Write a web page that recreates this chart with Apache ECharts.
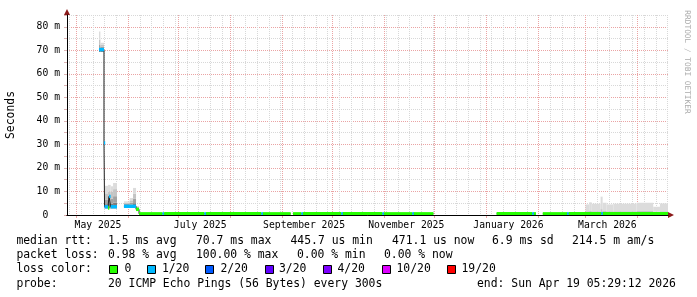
<!DOCTYPE html>
<html><head><meta charset="utf-8">
<script src="https://cdn.jsdelivr.net/npm/echarts@6/dist/echarts.min.js"></script>
<style>html,body{margin:0;padding:0;background:#fff}#c{width:697px;height:297px}</style>
</head><body><div id="c"></div>
<script>
// ---------- axis definitions ----------
const axisStart = '2025-04-25 12:00';
const axisEnd = '2026-04-19 05:29';
const yMax = 85;
const yTickValues = [0, 10, 20, 30, 40, 50, 60, 70, 80];
const yTickLabels = ['0\u00a0\u00a0', '10 m', '20 m', '30 m', '40 m', '50 m', '60 m', '70 m', '80 m'];
const xLabelDates = ['2025-05-14', '2025-07-14', '2025-09-14', '2025-11-14', '2026-01-14', '2026-03-14'];
const xLabelTexts = ['May 2025', 'July 2025', 'September 2025', 'November 2025', 'January 2026', 'March 2026'];
const monthStarts = ['2025-05-01', '2025-06-01', '2025-07-01', '2025-08-01', '2025-09-01', '2025-10-01',
  '2025-11-01', '2025-12-01', '2026-01-01', '2026-02-01', '2026-03-01', '2026-04-01'];
const firstWeekStart = '2025-04-27';

// ---------- median rtt (ms) per interval, with lost pings (of 20) ----------
const medStart = ['2025-05-14 14:00', '2025-05-17 14:00', '2025-05-17 22:00', '2025-05-20 00:00', '2025-05-20 14:00',
  '2025-05-21 14:00', '2025-05-29 12:00', '2025-06-05 17:00', '2025-06-07 12:00', '2025-06-21 12:00',
  '2025-06-22 12:00', '2025-07-16 12:00', '2025-07-17 12:00', '2025-08-19 12:00', '2025-08-20 12:00',
  '2025-09-07 10:00', '2025-09-12 10:00', '2025-09-13 10:00', '2025-10-06 05:00', '2025-10-07 05:00',
  '2025-10-30 19:00', '2025-10-31 19:00', '2025-11-17 14:00', '2025-11-18 14:00', '2026-01-06 22:00',
  '2026-01-28 05:00', '2026-01-29 05:00', '2026-02-03 12:00', '2026-02-18 00:00', '2026-02-19 00:00',
  '2026-03-10 10:00', '2026-03-11 10:00'];
const medEnd = ['2025-05-17 14:00', '2025-05-17 22:00', '2025-05-20 00:00', '2025-05-20 14:00', '2025-05-21 14:00',
  '2025-05-25 08:00', '2025-06-05 17:00', '2025-06-07 12:00', '2025-06-21 12:00', '2025-06-22 12:00',
  '2025-07-16 12:00', '2025-07-17 12:00', '2025-08-19 12:00', '2025-08-20 12:00', '2025-09-06 00:00',
  '2025-09-12 10:00', '2025-09-13 10:00', '2025-10-06 05:00', '2025-10-07 05:00', '2025-10-30 19:00',
  '2025-10-31 19:00', '2025-11-17 14:00', '2025-11-18 14:00', '2025-11-30 05:00', '2026-01-28 05:00',
  '2026-01-29 05:00', '2026-01-30 10:00', '2026-02-18 00:00', '2026-02-19 00:00', '2026-03-10 10:00',
  '2026-03-11 10:00', '2026-04-19 05:29'];
const medValue = [70.3, 30.6, 3.5, 3.0, 7.9, 3.5, 3.7, 2.4, 0.5, 0.5, 0.5, 0.5, 0.5, 0.5, 0.5, 0.5,
  0.5, 0.5, 0.5, 0.5, 0.5, 0.5, 0.5, 0.5, 0.5, 0.5, 0.5, 0.5, 0.5, 0.5, 0.5, 0.5];
const medLoss = [1, 1, 1, 0, 1, 1, 1, 0, 0, 1, 0, 1, 0, 1, 0, 0, 1, 0, 1, 0, 1, 0, 1, 0, 0, 1, 0, 0, 1, 0, 1, 0];

// ---------- smoke (ping rtt spread, ms) per interval ----------
const smStart = ['2025-05-14 14:00', '2025-05-15 10:00', '2025-05-17 22:00', '2025-05-20 00:00', '2025-05-21 14:00',
  '2025-05-23 00:00', '2025-05-29 12:00', '2025-06-01 22:00', '2025-06-03 22:00', '2025-06-05 17:00',
  '2026-03-01 00:00', '2026-03-03 05:00', '2026-03-04 17:00', '2026-03-10 00:00', '2026-03-11 05:00',
  '2026-03-13 14:00', '2026-03-17 14:00', '2026-03-31 12:00', '2026-04-10 10:00', '2026-04-14 10:00'];
const smEnd = ['2025-05-15 10:00', '2025-05-17 14:00', '2025-05-20 00:00', '2025-05-21 14:00', '2025-05-23 00:00',
  '2025-05-25 08:00', '2025-06-01 22:00', '2025-06-03 22:00', '2025-06-05 17:00', '2025-06-07 12:00',
  '2026-03-03 05:00', '2026-03-04 17:00', '2026-03-10 00:00', '2026-03-11 05:00', '2026-03-13 14:00',
  '2026-03-17 14:00', '2026-03-31 12:00', '2026-04-10 10:00', '2026-04-14 10:00', '2026-04-19 05:29'];
const smLo = [69.3, 69.3, 2.8, 2.8, 2.8, 2.8, 3.0, 3.0, 3.0, 2.0, 0.4, 0.4, 0.4, 0.4, 0.4, 0.4, 0.4, 0.4, 0.4, 0.4];
const smA  = [71.0, 70.8, 4.6, 5.0, 4.8, 5.2, 4.2, 4.4, 5.0, 2.6, 0.7, 0.7, 0.7, 0.8, 0.7, 0.7, 0.7, 0.7, 0.7, 0.7];
const smB  = [72.5, 71.6, 6.6, 7.5, 7.0, 8.0, 4.7, 5.2, 7.0, 3.0, 1.0, 1.0, 1.0, 1.3, 1.0, 1.0, 1.0, 1.0, 1.0, 1.0];
const smC  = [74.5, 72.4, 9.2, 10.0, 10.0, 11.0, 5.2, 6.2, 9.0, 3.4, 1.6, 1.7, 1.6, 2.5, 1.7, 1.6, 1.6, 1.7, 1.4, 1.6];
const smHi = [78.0, 73.2, 12.4, 12.8, 12.2, 13.6, 5.8, 7.2, 11.5, 3.8, 4.5, 5.4, 4.8, 7.8, 5.2, 4.5, 4.8, 5.2, 3.5, 4.9];

// ---------- loss colour legend ----------
const lossLevels = [0, 1, 2, 3, 4, 10, 19];
const lossColors = ['#26ff00', '#00b8ff', '#0059ff', '#5e00ff', '#7e00ff', '#dd00ff', '#ff0000'];
const lossLabels = ['0', '1/20', '2/20', '3/20', '4/20', '10/20', '19/20'];

// ---------- helpers ----------
function T(s) {
  const parts = s.split(' ');
  const h = parts[1] || '00:00';
  return Date.parse(parts[0] + 'T' + h + ':00Z');
}
function lossColor(l) {
  let c = lossColors[0];
  for (let i = 0; i < lossLevels.length; i++) if (l >= lossLevels[i]) c = lossColors[i];
  return c;
}
const xMin = T(axisStart), xMax = T(axisEnd);
const DAY = 86400000;
const weekStarts = [];
for (let t = T(firstWeekStart); t <= xMax; t += 7 * DAY) weekStarts.push(t);
const monthTicks = monthStarts.map(T);
const xLabelValues = xLabelDates.map(T);

const medData = medStart.map((s, i) => [T(s), T(medEnd[i]), medValue[i], medLoss[i]]);
const lineData = [];
medData.forEach((d, i) => {
  if (i > 0 && medData[i - 1][1] !== d[0]) lineData.push([medData[i - 1][1], null]);
  lineData.push([d[0], d[2]], [d[1], d[2]]);
});
const smokeData = smStart.map((s, i) => [T(s), T(smEnd[i]), smLo[i], smA[i], smB[i], smC[i], smHi[i]]);
const smokeColors = ['#7c7c7c', '#a2a2a2', '#c4c4c4', '#dcdcdc'];

const MONO = 'DejaVu Sans Mono';
const GRID_MINOR = '#d8d8d8';
const GRID_MAJOR = '#eaa4a4';
const ARROW = '#8b1a1a';

// ---------- legend graphics ----------
const FS = 11.4;
function txt(x, y, s) {
  return { type: 'text', x: x, y: y, silent: true,
    style: { text: s, fontFamily: MONO, fontSize: FS, fill: '#000', verticalAlign: 'middle' } };
}
const rowY = [241, 255.5, 269.5, 284];
const graphics = [
  txt(16.4, rowY[0], 'median rtt:'), txt(108, rowY[0], '1.5 ms avg'), txt(196, rowY[0], '70.7 ms max'),
  txt(290.5, rowY[0], '445.7 us min'), txt(392, rowY[0], '471.1 us now'), txt(492, rowY[0], '6.9 ms sd'),
  txt(572, rowY[0], '214.5 m am/s'),
  txt(16.4, rowY[1], 'packet loss:'), txt(108, rowY[1], '0.98 % avg'), txt(196, rowY[1], '100.00 % max'),
  txt(297, rowY[1], '0.00 % min'), txt(384, rowY[1], '0.00 % now'),
  txt(16.4, rowY[2], 'loss color:'),
  txt(16.4, rowY[3], 'probe:'), txt(108, rowY[3], '20 ICMP Echo Pings (56 Bytes) every 300s'),
  txt(477, rowY[3], 'end: Sun Apr 19 05:29:12 2026'),
  { type: 'text', x: 11, y: 115, rotation: Math.PI / 2, silent: true,
    style: { text: 'Seconds', fontFamily: MONO, fontSize: FS, fill: '#000', align: 'center', verticalAlign: 'middle' } },
  { type: 'text', x: 687.5, y: 62, rotation: -Math.PI / 2, silent: true,
    style: { text: 'RRDTOOL / TOBI OETIKER', fontFamily: MONO, fontSize: 7.8, fill: '#aaaaaa', align: 'center', verticalAlign: 'middle' } }
];
const boxX = [109.5, 147.5, 205.5, 265.5, 323.5, 382.5, 447.5];
const boxLabelX = [124.5, 162, 220.5, 279, 337.5, 396.5, 461.5];
lossLabels.forEach((l, i) => {
  graphics.push({ type: 'rect', silent: true, shape: { x: boxX[i], y: 265.5, width: 8, height: 8 },
    style: { fill: lossColors[i], stroke: '#000', lineWidth: 1 } });
  graphics.push(txt(boxLabelX[i], rowY[2], l));
});

const chart = echarts.init(document.getElementById('c'), null, { renderer: 'canvas' });
chart.setOption({
  animation: false,
  backgroundColor: '#fff',
  grid: { left: 67, right: 29, top: 15, bottom: 82, containLabel: false, outerBoundsMode: 'none' },
  xAxis: [
    { type: 'value', min: xMin, max: xMax, position: 'bottom', z: 6,
      axisLine: { show: true, onZero: false, lineStyle: { color: '#000', width: 1 } },
      axisTick: { show: false }, splitLine: { show: false },
      axisLabel: { customValues: xLabelValues, margin: 5, fontFamily: MONO, fontSize: 9.72, color: '#000',
        formatter: v => { const i = xLabelValues.indexOf(v); return i >= 0 ? xLabelTexts[i] : ''; } } },
    { type: 'value', min: xMin, max: xMax, position: 'bottom', z: 5,
      axisLine: { show: true, onZero: false, symbol: ['none', 'triangle'], symbolSize: [6, 6], symbolOffset: [0, 3],
        lineStyle: { color: ARROW, width: 1 } },
      axisTick: { show: false }, axisLabel: { show: false }, splitLine: { show: false } },
    { type: 'value', min: xMin, max: xMax, position: 'bottom', z: 0,
      axisLine: { show: false, onZero: false }, axisLabel: { show: false },
      axisTick: { show: false, customValues: weekStarts },
      splitLine: { show: true, lineStyle: { color: GRID_MINOR, width: 1, type: [1, 1] } } },
    { type: 'value', min: xMin, max: xMax, position: 'bottom', z: 0,
      axisLine: { show: false, onZero: false }, axisLabel: { show: false },
      axisTick: { show: true, customValues: monthTicks, length: 3, lineStyle: { color: GRID_MAJOR } },
      splitLine: { show: true, lineStyle: { color: GRID_MAJOR, width: 1, type: [1, 1] } } }
  ],
  yAxis: [
    { type: 'value', min: 0, max: yMax, interval: 5, position: 'left', z: 0,
      axisLine: { show: false, onZero: false },
      axisTick: { show: true, length: 3, lineStyle: { color: '#dcb4b4' } },
      axisLabel: { margin: 7, fontFamily: MONO, fontSize: 9.72, color: '#000',
        formatter: v => { const i = yTickValues.indexOf(v); return i >= 0 ? yTickLabels[i] : ''; } },
      splitLine: { show: true, lineStyle: { color: [GRID_MAJOR, GRID_MINOR], width: 1, type: [1, 1] } } },
    { type: 'value', min: 0, max: yMax, position: 'left', z: 6,
      axisLine: { show: true, onZero: false, lineStyle: { color: '#000', width: 1 } },
      axisTick: { show: false }, axisLabel: { show: false }, splitLine: { show: false } },
    { type: 'value', min: 0, max: yMax, position: 'left', z: 5,
      axisLine: { show: true, onZero: false, symbol: ['none', 'triangle'], symbolSize: [6, 6], symbolOffset: [0, 3],
        lineStyle: { color: ARROW, width: 1 } },
      axisTick: { show: false }, axisLabel: { show: false }, splitLine: { show: false } }
  ],
  series: [
    { type: 'custom', name: 'smoke', xAxisIndex: 0, yAxisIndex: 0, z: 2, clip: true, silent: true,
      encode: { x: [0, 1], y: [2, 6] },
      data: smokeData,
      renderItem: (params, api) => {
        const s = api.value(0), e = api.value(1);
        const v = [api.value(2), api.value(3), api.value(4), api.value(5), api.value(6)];
        const children = [];
        for (let k = 0; k < 4; k++) {
          const p1 = api.coord([s, v[k]]);
          const p2 = api.coord([e, v[k + 1]]);
          children.push({ type: 'rect', shape: { x: p1[0], y: p2[1], width: p2[0] - p1[0], height: p1[1] - p2[1] },
            style: { fill: smokeColors[k] } });
        }
        return { type: 'group', children: children };
      } },
    { type: 'line', name: 'median', xAxisIndex: 0, yAxisIndex: 0, z: 3, silent: true,
      data: lineData, showSymbol: false, symbol: 'none', connectNulls: false,
      lineStyle: { color: '#202020', width: 1 } },
    { type: 'custom', name: 'loss', xAxisIndex: 0, yAxisIndex: 0, z: 4, clip: true, silent: true,
      encode: { x: [0, 1], y: 2 },
      data: medData,
      renderItem: (params, api) => {
        const p1 = api.coord([api.value(0), api.value(2)]);
        const p2 = api.coord([api.value(1), api.value(2)]);
        return { type: 'rect', shape: { x: p1[0], y: p1[1] - 1.7, width: Math.max(p2[0] - p1[0], 1.2), height: 3.4 },
          style: { fill: lossColor(api.value(3)) } };
      } }
  ],
  graphic: graphics
});
</script>
</body></html>
